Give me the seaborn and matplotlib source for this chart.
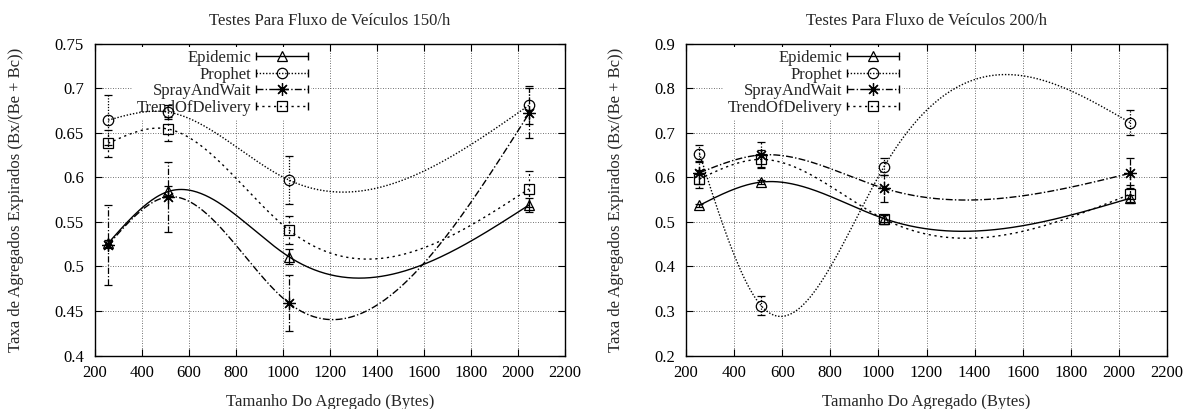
import numpy as np
import pandas as pd
import matplotlib
matplotlib.use("Agg")
import matplotlib.pyplot as plt
import seaborn as sns
from matplotlib.lines import Line2D
from matplotlib.legend_handler import HandlerLine2D
from matplotlib.ticker import FormatStrFormatter

# Aggregate sizes (bytes) tested
sizes = [256, 512, 1024, 2048]
protocols = ["Epidemic", "Prophet", "SprayAndWait", "TrendOfDelivery"]

# Vehicle flow 150/h: expired-aggregate ratio and error
epidemic_150 = [0.526, 0.584, 0.511, 0.569]
epidemic_150_err = [0.004, 0.006, 0.008, 0.008]
prophet_150 = [0.664, 0.673, 0.597, 0.681]
prophet_150_err = [0.028, 0.008, 0.027, 0.021]
spray_150 = [0.524, 0.578, 0.459, 0.672]
spray_150_err = [0.045, 0.039, 0.031, 0.028]
trend_150 = [0.638, 0.654, 0.541, 0.587]
trend_150_err = [0.015, 0.013, 0.016, 0.020]

# Vehicle flow 200/h
epidemic_200 = [0.537, 0.589, 0.507, 0.553]
epidemic_200_err = [0.004, 0.005, 0.008, 0.008]
prophet_200 = [0.653, 0.312, 0.624, 0.722]
prophet_200_err = [0.019, 0.022, 0.020, 0.028]
spray_200 = [0.610, 0.650, 0.575, 0.609]
spray_200_err = [0.026, 0.028, 0.030, 0.034]
trend_200 = [0.596, 0.640, 0.506, 0.562]
trend_200_err = [0.020, 0.020, 0.010, 0.020]

x_ticks = [200, 400, 600, 800, 1000, 1200, 1400, 1600, 1800, 2000, 2200]
y_ticks_150 = [0.4, 0.45, 0.5, 0.55, 0.6, 0.65, 0.7, 0.75]
y_ticks_200 = [0.2, 0.3, 0.4, 0.5, 0.6, 0.7, 0.8, 0.9]

titles = ["Testes Para Fluxo de Veículos 150/h", "Testes Para Fluxo de Veículos 200/h"]
x_label = "Tamanho Do Agregado (Bytes)"
y_label = "Taxa de Agregados Expirados (Bx/(Be + Bc))"

panels = [
    {
        "values": [epidemic_150, prophet_150, spray_150, trend_150],
        "errors": [epidemic_150_err, prophet_150_err, spray_150_err, trend_150_err],
        "yticks": y_ticks_150,
    },
    {
        "values": [epidemic_200, prophet_200, spray_200, trend_200],
        "errors": [epidemic_200_err, prophet_200_err, spray_200_err, trend_200_err],
        "yticks": y_ticks_200,
    },
]

# line style per protocol
dash_styles = {
    "Epidemic": "",
    "Prophet": (1.0, 1.3),
    "SprayAndWait": (5.0, 1.6, 1.0, 1.6),
    "TrendOfDelivery": (1.6, 2.6),
}
markers = {"Epidemic": "^", "Prophet": "o", "SprayAndWait": (8, 2, 0), "TrendOfDelivery": "s"}
marker_sizes = {"Epidemic": 7.5, "Prophet": 7.5, "SprayAndWait": 9, "TrendOfDelivery": 7}

FS = 12


def ls_of(name):
    d = dash_styles[name]
    return "-" if d == "" else (0, d)


def natural_spline(x, y, n=300):
    """Natural cubic spline through the points (smooth csplines)."""
    x = np.asarray(x, float)
    y = np.asarray(y, float)
    k = len(x)
    h = np.diff(x)
    A = np.zeros((k, k))
    b = np.zeros(k)
    A[0, 0] = A[-1, -1] = 1.0
    for i in range(1, k - 1):
        A[i, i - 1] = h[i - 1]
        A[i, i] = 2 * (h[i - 1] + h[i])
        A[i, i + 1] = h[i]
        b[i] = 6 * ((y[i + 1] - y[i]) / h[i] - (y[i] - y[i - 1]) / h[i - 1])
    M = np.linalg.solve(A, b)
    xs = np.linspace(x[0], x[-1], n)
    idx = np.clip(np.searchsorted(x, xs, side="right") - 1, 0, k - 2)
    x0, x1 = x[idx], x[idx + 1]
    hh = x1 - x0
    ys = (M[idx] * (x1 - xs) ** 3 / (6 * hh) + M[idx + 1] * (xs - x0) ** 3 / (6 * hh)
          + (y[idx] / hh - M[idx] * hh / 6) * (x1 - xs)
          + (y[idx + 1] / hh - M[idx + 1] * hh / 6) * (xs - x0))
    return xs, ys


sns.set_theme(style="ticks")
plt.rcParams["font.family"] = ["Liberation Serif", "DejaVu Serif"]
plt.rcParams["axes.linewidth"] = 1.0

fig = plt.figure(figsize=(11.96, 4.09), dpi=100)
axes_rects = [
    [95 / 1196, 1 - 355.5 / 409, 470 / 1196, 312 / 409],
    [686 / 1196, 1 - 355.5 / 409, 481 / 1196, 312 / 409],
]
legend_anchor = [0.46, 0.45]
ylabel_x = [-0.151, -0.128]

for p, panel in enumerate(panels):
    ax = fig.add_axes(axes_rects[p])

    # smooth curves through each protocol's points
    frames = []
    for name, vals in zip(protocols, panel["values"]):
        xs, ys = natural_spline(sizes, vals)
        frames.append(pd.DataFrame({"size": xs, "ratio": ys, "protocol": name}))
    curves = pd.concat(frames, ignore_index=True)
    sns.lineplot(data=curves, x="size", y="ratio", style="protocol",
                 style_order=protocols, dashes=dash_styles, color="black",
                 linewidth=1.0, estimator=None, sort=False, legend=False, ax=ax)

    # measured points with error bars
    for name, vals, errs in zip(protocols, panel["values"], panel["errors"]):
        eb = ax.errorbar(sizes, vals, yerr=errs, fmt="none", ecolor="black",
                         elinewidth=0.9, capsize=3, capthick=0.9, zorder=3)
        eb.lines[2][0].set_linestyle(ls_of(name))
        ax.plot(sizes, vals, ls="none", marker=markers[name],
                ms=marker_sizes[name], mfc="none", mec="black", mew=0.9, zorder=4)

    ax.set_xlim(200, 2200)
    ax.set_ylim(panel["yticks"][0], panel["yticks"][-1])
    ax.set_xticks(x_ticks)
    ax.set_yticks(panel["yticks"])
    ax.yaxis.set_major_formatter(FormatStrFormatter("%g"))
    ax.tick_params(direction="in", top=True, right=True, length=5, width=0.8,
                   labelsize=FS, colors="black", pad=7)
    ax.tick_params(axis="y", pad=8)
    ax.grid(True, color="#444444", linestyle=(0, (1, 2)), linewidth=0.6)
    for s in ax.spines.values():
        s.set_color("black")
        s.set_linewidth(1.0)

    ax.set_title(titles[p], fontsize=FS, pad=13)
    ax.set_xlabel(x_label, fontsize=FS, labelpad=9)
    ax.set_ylabel(y_label, fontsize=FS)
    ax.yaxis.set_label_coords(ylabel_x[p], 0.5)

    # legend: label, then a line sample with end caps and the marker
    handles, hmap = [], {}
    for name in protocols:
        caps = Line2D([], [], color="black", lw=1.0, ls=ls_of(name),
                      marker="|", ms=6, mew=1.0)
        mk = Line2D([], [], ls="none", marker=markers[name], ms=marker_sizes[name],
                    mfc="none", mec="black", mew=0.9)
        hmap[caps] = HandlerLine2D(numpoints=2, marker_pad=0)
        handles.append((caps, mk))
    leg = ax.legend(handles, protocols, handler_map=hmap, loc="upper right",
                    bbox_to_anchor=(legend_anchor[p], 0.99), markerfirst=False,
                    fontsize=FS, frameon=True, fancybox=False, framealpha=1,
                    facecolor="white", edgecolor="none", handlelength=3.1,
                    handletextpad=0.3, labelspacing=0.04, borderpad=0.2,
                    borderaxespad=0)
    # keep the legend box above the grid but beneath the data
    leg.set_zorder(1.5)

fig.savefig("out.png", dpi=100)
